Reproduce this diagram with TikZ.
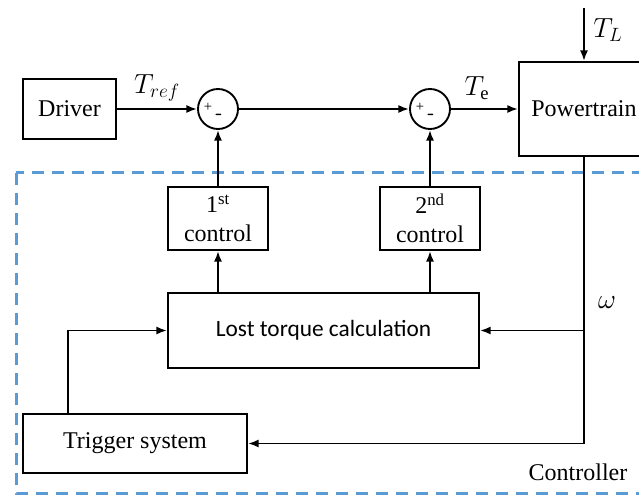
\documentclass[tikz,border=0pt]{standalone}
\usepackage{fontspec}
\setmainfont{Liberation Serif}
\newfontfamily\calibrifont{Carlito}
\usetikzlibrary{arrows.meta}
\definecolor{ctrlblue}{HTML}{5B9BD5}
\tikzset{
  block/.style={draw, line width=1.4pt, align=center, inner sep=0pt,
    font=\fontsize{18}{21.75}\selectfont},
  sumnode/.style={draw, circle, line width=1.4pt, minimum size=30pt, inner sep=0pt},
  signal/.style={line width=1.4pt, -{Latex[length=8pt,width=6pt]}},
  varlabel/.style={font=\fontsize{20}{24}\selectfont},
}
\begin{document}
\begin{tikzpicture}[x=0.75pt, y=-0.75pt]
    \useasboundingbox (0,0) rectangle (639,495);
    % controller frame
    \draw[ctrlblue, line width=2.25pt, dash pattern=on 9pt off 6pt] (16,173) rectangle (670,493);
    \node[font=\fontsize{18}{20}\selectfont] (controller) at (578,472) {Controller};
    % blocks
    \node[block, minimum width=69.75pt, minimum height=45pt] (driver) at (69.5,109) {Driver};
    \node[sumnode] (sum1) at (218,109) {};
    \node[sumnode] (sum2) at (430,109) {};
    \node[block, minimum width=97.5pt, minimum height=70.5pt] (powertrain) at (584,109) {Powertrain};
    \node[block, minimum width=75pt, minimum height=47.25pt] (ctrl1) at (218,218.5) {1\textsuperscript{st}\\control};
    \node[block, minimum width=75pt, minimum height=47.25pt] (ctrl2) at (430,218.5) {2\textsuperscript{nd}\\control};
    \node[block, minimum width=233.25pt, minimum height=56.25pt, font=\calibrifont\fontsize{17.5}{20}\selectfont] (lost) at (323.5,330.5) {Lost torque calculation};
    \node[block, minimum width=168pt, minimum height=44.25pt] (trigger) at (135,443.5) {Trigger system};
    % signs
    \foreach \s in {sum1, sum2} {
        \node[font=\fontsize{11}{12}\selectfont, inner sep=0pt] at ([shift={(-10,-2)}]\s.center) {+};
        \node[font=\sffamily\bfseries\fontsize{15}{16}\selectfont, inner sep=0pt] at ([shift={(1,8)}]\s.center) {-};
    }
    % forward path
    \coordinate (load) at (584,8);
    \draw[signal] (driver) -- (sum1);
    \draw[signal] (sum1) -- (sum2);
    \draw[signal] (sum2) -- (powertrain);
    \draw[signal] (load) -- (powertrain.north);
    \draw[signal] (ctrl1) -- (sum1);
    \draw[signal] (ctrl2) -- (sum2);
    \draw[signal] (lost.north -| ctrl1) -- (ctrl1);
    \draw[signal] (lost.north -| ctrl2) -- (ctrl2);
    % feedback
    \draw[signal] (powertrain.south) |- (trigger.east);
    \draw[signal] (powertrain.south |- lost.east) -- (lost.east);
    \draw[signal] ([xshift=34.5pt]trigger.north west) |- (lost.west);
    % labels
    \node[varlabel] (tref) at (157,88) {$T_{ref}$};
    \node[varlabel] (te) at (477,88) {$T_{\mathrm{e}}$};
    \node[varlabel] (tl) at (608,30) {$T_L$};
    \node[varlabel] (omega) at (607,303) {$\omega$};
\end{tikzpicture}
\end{document}
